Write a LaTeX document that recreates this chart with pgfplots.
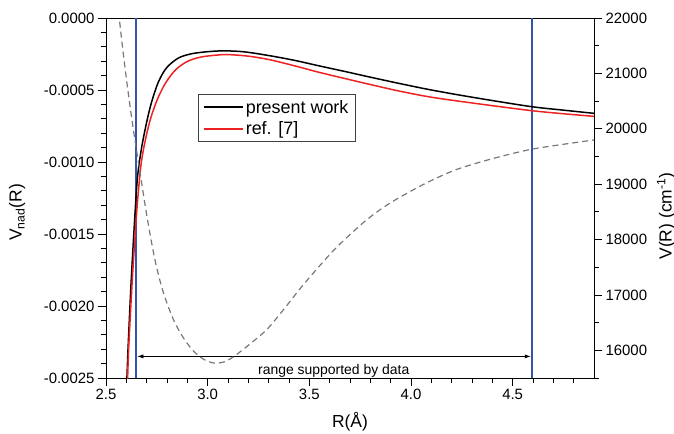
\documentclass[border=0pt]{standalone}
\usepackage{fontspec}
\setmainfont{Liberation Sans}
\usepackage{pgfplots}
\pgfplotsset{compat=1.18}
\usetikzlibrary{arrows.meta}

\definecolor{refred}{RGB}{238,34,34}
\definecolor{vline}{RGB}{52,82,168}
\definecolor{dashgray}{RGB}{120,120,120}

\pgfplotsset{
  common/.style={
    width=488bp, height=360bp, scale only axis,
    xmin=2.5, xmax=4.9,
    tick align=outside,
    major tick length=8bp, minor tick length=5bp,
    every tick/.style={black, line width=0.8bp},
    axis line style={line width=0.9bp},
    tick label style={font=\fontsize{15}{17}\selectfont},
    label style={font=\fontsize{17.5}{20}\selectfont},
    scaled ticks=false,
  }
}

\begin{document}
\begin{tikzpicture}
\path[use as bounding box] (-106bp,-56bp) rectangle (568bp,378bp);

% left axis: non-adiabatic correction
\begin{axis}[common,
  ymin=-0.0025, ymax=0,
  xtick pos=left, ytick pos=left,
  xtick={2.5,3.0,3.5,4.0,4.5},
  xticklabels={2.5,3.0,3.5,4.0,4.5},
  minor xtick={2.6,2.7,2.8,2.9,3.1,3.2,3.3,3.4,3.6,3.7,3.8,3.9,4.1,4.2,4.3,4.4,4.6,4.7,4.8},
  ytick={-0.0025,-0.0020,-0.0015,-0.0010,-0.0005,0},
  yticklabels={-0.0025,-0.0020,-0.0015,-0.0010,-0.0005,0.0000},
  minor y tick num=4,
  xlabel={R(Å)},
  ylabel={V\textsubscript{nad}(R)},
  xlabel style={at={(axis description cs:0.5,-0.122)}, anchor=center},
  ylabel style={at={(axis description cs:-0.182,0.46)}, anchor=center},
  legend style={at={(axis description cs:0.1875,0.7875)}, anchor=north west,
    draw=black!75, line width=0.6bp, font=\fontsize{18}{20}\selectfont,
    inner xsep=5bp, inner ysep=3.5bp, row sep=3bp},
  legend cell align=left,
  legend image code/.code={\draw[#1, line width=2bp] (0bp,0.3bp) -- (39bp,0.3bp);},
]
% range limits (drawn first, under the curves)
\addplot[vline, line width=2bp, forget plot] coordinates {(2.646,-0.0025) (2.646,0)};
\addplot[vline, line width=2bp, forget plot] coordinates {(4.597,-0.0025) (4.597,0)};
\addplot[black, line width=0.6bp, {Latex[length=6bp,width=4bp]}-{Latex[length=6bp,width=4bp]}, forget plot]
  coordinates {(2.654,-0.00235) (4.589,-0.00235)};
\node[font=\fontsize{14}{16}\selectfont] at (axis cs:3.62,-0.00245) {range supported by data};
\addplot[black, line width=1.5bp, smooth] coordinates {
 (2.600,-0.00262) (2.608,-0.00231) (2.623,-0.00185) (2.638,-0.00147)
 (2.654,-0.00112) (2.674,-0.00091) (2.699,-0.00073) (2.723,-0.00059)
 (2.756,-0.00045) (2.797,-0.000347) (2.856,-0.000278) (2.922,-0.000248)
 (3.000,-0.000234) (3.080,-0.000228) (3.180,-0.000235) (3.306,-0.000262)
 (3.430,-0.000295) (3.550,-0.000333) (3.680,-0.000373) (3.797,-0.000410)
 (3.944,-0.000455) (4.100,-0.000500) (4.300,-0.000550) (4.584,-0.000614)
 (4.750,-0.000640) (4.900,-0.000662)
};
\addlegendentry{present work}
\addplot[refred, line width=1.5bp, smooth] coordinates {
 (2.604,-0.00262) (2.611,-0.00231) (2.628,-0.00185) (2.645,-0.00147)
 (2.657,-0.00124) (2.673,-0.00101) (2.694,-0.000845) (2.719,-0.000700)
 (2.752,-0.000567) (2.793,-0.000451) (2.843,-0.000359) (2.901,-0.000301)
 (2.967,-0.000271) (3.049,-0.000257) (3.100,-0.000254) (3.200,-0.000265)
 (3.306,-0.000290) (3.430,-0.000333) (3.550,-0.000378) (3.680,-0.000422)
 (3.797,-0.000461) (3.944,-0.000508) (4.100,-0.000550) (4.300,-0.000590)
 (4.584,-0.000642) (4.750,-0.000665) (4.900,-0.000683)
};
\addlegendentry{ref. [7]}
\end{axis}

% right axis: potential
\begin{axis}[common,
  axis x line=none,
  axis y line*=right,
  ymin=15500, ymax=22000,
  ytick={16000,17000,18000,19000,20000,21000,22000},
  yticklabels={16000,17000,18000,19000,20000,21000,22000},
  minor ytick={15500,16500,17500,18500,19500,20500,21500},
  ylabel={V(R) (cm\textsuperscript{-1})},
  ylabel style={at={(axis description cs:1.1475,0.45)}, anchor=center, rotate=0},
]
\addplot[dashgray, line width=1.2bp, dash pattern=on 6bp off 4bp, smooth] coordinates {
 (2.545,22650) (2.565,22000) (2.585,21360) (2.605,20770) (2.625,20230)
 (2.645,19730) (2.665,19270) (2.700,18448) (2.740,17648) (2.780,17068)
 (2.830,16568) (2.880,16228) (2.930,15988) (2.980,15838) (3.030,15770)
 (3.080,15790) (3.126,15881) (3.200,16090) (3.290,16373) (3.370,16720)
 (3.453,17106) (3.535,17460) (3.617,17795) (3.700,18090) (3.781,18353)
 (3.862,18575) (3.945,18763) (4.080,19030) (4.223,19263) (4.400,19460)
 (4.584,19624) (4.750,19720) (4.900,19798)
};
\end{axis}
\end{tikzpicture}
\end{document}
